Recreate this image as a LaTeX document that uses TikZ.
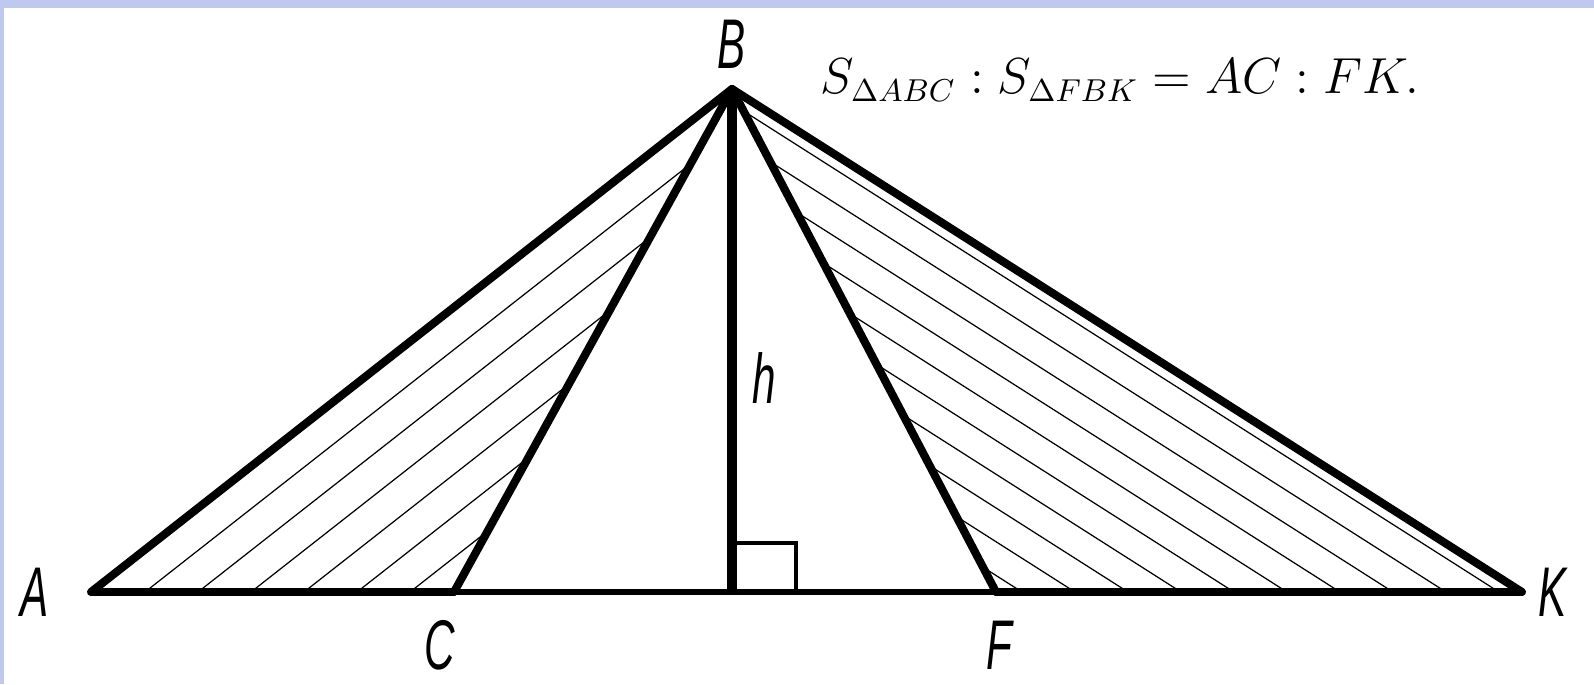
\documentclass[tikz,border=0pt]{standalone}
\usepackage{fontspec}
\newfontfamily\pointfont{Liberation Sans}
\usetikzlibrary{positioning,calc}
\definecolor{frameblue}{HTML}{BFC8EE}
\newcommand{\ptname}[1]{\scalebox{0.6}[1]{\pointfont\itshape #1}}

\begin{document}
\begin{tikzpicture}[
    x=0.01cm, y=-0.01cm,
    side/.style={line width=2.3pt, line join=round, line cap=round},
    basethick/.style={line width=2.5pt},
    basethin/.style={line width=1.6pt},
    height/.style={line width=2.7pt},
    rightmark/.style={line width=1.4pt},
    hatch/.style={line width=0.35pt},
    pointlabel/.style={font=\fontsize{20}{20}\selectfont, inner sep=0pt}
]
    % Fundo e moldura
    \useasboundingbox (0,0) rectangle (1594,684);
    \fill[white] (0,0) rectangle (1594,684);
    \fill[frameblue] (0,0) rectangle (1594,8);
    \fill[frameblue] (0,0) rectangle (4,684);

    % Pontos
    \coordinate (A) at (91,592);
    \coordinate (B) at (732,89);
    \coordinate (C) at (454,592);
    \coordinate (H) at (732,592);
    \coordinate (F) at (996,592);
    \coordinate (K) at (1522,592);

    % Hachura
    \begin{scope}
        \clip (A) -- (B) -- (C) -- cycle;
        \foreach \x in {145,198,...,420}
            \draw[hatch] (\x,592) -- ++(641,-503);
    \end{scope}
    \begin{scope}
        \clip (F) -- (B) -- (K) -- cycle;
        \foreach \x in {1022,1075,...,1500}
            \draw[hatch] (\x,592) -- ++(-790,-503);
    \end{scope}

    % Base
    \draw[basethick] (A) -- (C);
    \draw[basethin] (C) -- (F);
    \draw[basethick] (F) -- (K);

    % Lados
    \draw[side] (A) -- (B);
    \draw[side] (B) -- (C);
    \draw[side] (B) -- (F);
    \draw[side] (B) -- (K);

    % Altura e angulo reto
    \draw[height] (B) -- (H);
    \draw[rightmark] (H) ++(0,-49) -| ++(64,49);

    % Rotulos
    \node[pointlabel, left=0.42cm of A] (lblA) {\ptname{A}};
    \node[pointlabel, above=0.2cm of B] (lblB) {\ptname{B}};
    \node[pointlabel, below=0.28cm of C, xshift=-4pt] (lblC) {\ptname{C}};
    \node[pointlabel, below=0.28cm of F, xshift=1pt] (lblF) {\ptname{F}};
    \node[pointlabel, right=0.16cm of K] (lblK) {\ptname{K}};
    \node[pointlabel] (lblh) at (764,378) {\ptname{h}};

    % Formula
    \node[font=\fontsize{13.5}{16}\selectfont] (ratio) at (1120,80) {$S_{\Delta ABC} : S_{\Delta FBK} = AC : FK.$};
\end{tikzpicture}
\end{document}
